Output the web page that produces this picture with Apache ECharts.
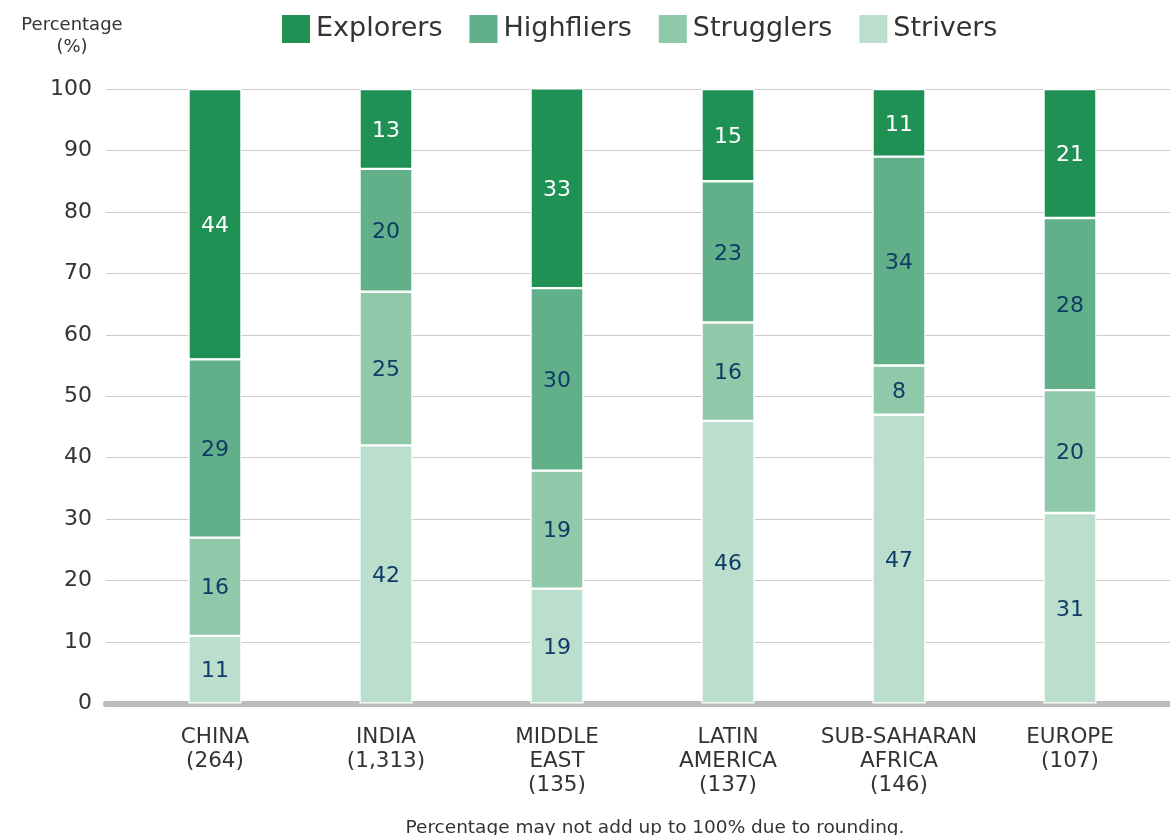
<!DOCTYPE html>
<html>
<head>
<meta charset="utf-8">
<script src="https://cdn.jsdelivr.net/npm/echarts@6/dist/echarts.min.js"></script>
<style>
html,body{margin:0;padding:0;background:#fff;}
#chart{width:1170px;height:835px;}
</style>
</head>
<body>
<div id="chart"></div>
<script>
const categories = ['CHINA\n(264)', 'INDIA\n(1,313)', 'MIDDLE\nEAST\n(135)', 'LATIN\nAMERICA\n(137)', 'SUB-SAHARAN\nAFRICA\n(146)', 'EUROPE\n(107)'];
const strivers   = [11, 42, 18.7, 46, 47, 31];
const strugglers = [16, 25, 19.2, 16, 8, 20];
const highfliers = [29, 20, 29.7, 23, 34, 28];
const explorers  = [44, 13, 32.6, 15, 11, 21];
const yTicks = [0, 10, 20, 30, 40, 50, 60, 70, 80, 90, 100];

const FONT = '"DejaVu Sans", "Open Sans", sans-serif';
const colors = {
  Explorers: '#1f9155',
  Highfliers: '#62b08a',
  Strugglers: '#90c8aa',
  Strivers: '#bcdfcd'
};

function mk(name, data, labelColor) {
  return {
    name: name,
    type: 'bar',
    stack: 'total',
    xAxisIndex: 0,
    yAxisIndex: 0,
    barWidth: 53,
    data: data,
    itemStyle: { color: colors[name], borderColor: '#fff', borderWidth: 1.2 },
    label: {
      show: true,
      position: 'inside',
      color: labelColor,
      fontFamily: FONT,
      fontSize: 22,
      fontWeight: 'normal',
      offset: [0, 2],
      formatter: p => String(Math.round(p.value))
    },
    emphasis: { disabled: true }
  };
}

const chart = echarts.init(document.getElementById('chart'), null, { renderer: 'canvas' });
chart.setOption({
  animation: false,
  textStyle: { fontFamily: FONT },
  title: [
    {
      text: 'Percentage\n(%)',
      left: 67, top: 9,
      textAlign: 'center',
      textStyle: { fontFamily: FONT, fontSize: 18, fontWeight: 'normal', color: '#333', lineHeight: 22, align: 'center' }
    },
    {
      text: 'Percentage may not add up to 100% due to rounding.',
      left: 650, top: 814,
      textAlign: 'center',
      textStyle: { fontFamily: FONT, fontSize: 18.5, fontWeight: 'normal', color: '#333' }
    }
  ],
  legend: {
    top: 13,
    left: 280,
    padding: 0,
    itemWidth: 30,
    itemHeight: 30,
    itemGap: 25,
    icon: 'rect',
    data: ['Explorers', 'Highfliers', 'Strugglers', 'Strivers'],
    textStyle: { fontFamily: FONT, fontSize: 27, color: '#333', padding: [0, 0, 0, 0] }
  },
  grid: [
    { left: 129.5, right: 14.5, top: 89, bottom: 131.5 },
    { left: 106, right: 0, top: 89, bottom: 131.5 }
  ],
  xAxis: [
    {
      type: 'category',
      gridIndex: 0,
      data: categories,
      axisLine: { show: false },
      axisTick: { show: false },
      axisLabel: { fontFamily: FONT, fontSize: 21.5, color: '#333', lineHeight: 24, margin: 22, interval: 0 }
    },
    {
      type: 'value',
      gridIndex: 1,
      min: 0, max: 1,
      axisLine: { show: true, lineStyle: { color: '#bcbcbc', width: 6 } },
      axisTick: { show: false },
      axisLabel: { show: false },
      splitLine: { show: false }
    }
  ],
  yAxis: [
    {
      type: 'value',
      gridIndex: 0,
      min: 0, max: 100, interval: 10,
      show: false,
      splitLine: { show: false }
    },
    {
      type: 'value',
      gridIndex: 1,
      min: 0, max: 100, interval: 10,
      axisLine: { show: false },
      axisTick: { show: false },
      axisLabel: {
        fontFamily: FONT, fontSize: 22, color: '#333', margin: 14,
        formatter: v => yTicks.includes(v) ? String(v) : ''
      },
      splitLine: { show: true, lineStyle: { color: '#cccccc', width: 1 } }
    }
  ],
  series: [
    mk('Strivers', strivers, '#0f3c66'),
    mk('Strugglers', strugglers, '#0f3c66'),
    mk('Highfliers', highfliers, '#0f3c66'),
    mk('Explorers', explorers, '#ffffff')
  ]
});
</script>
</body>
</html>
